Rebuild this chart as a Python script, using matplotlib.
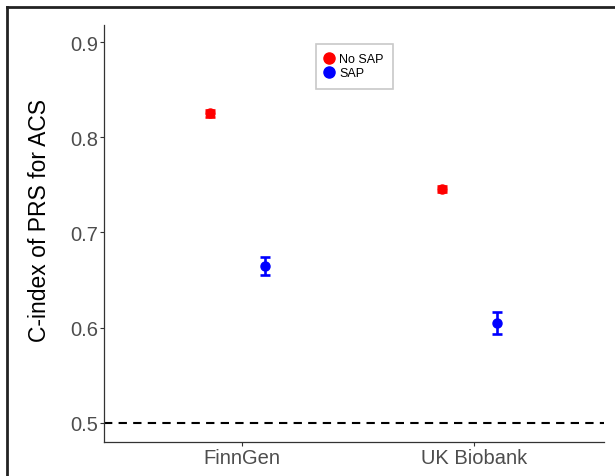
import matplotlib
matplotlib.use("Agg")
import matplotlib.pyplot as plt
from matplotlib.lines import Line2D
import numpy as np

plt.rcParams['font.family'] = ['Liberation Sans', 'DejaVu Sans']

cohorts = ["FinnGen", "UK Biobank"]
series = ["No SAP", "SAP"]
cindex = {"No SAP": [0.825, 0.746], "SAP": [0.6645, 0.605]}
err = {"No SAP": [0.004, 0.003], "SAP": [0.0095, 0.012]}
colors = {"No SAP": "#FF0000", "SAP": "#0000FF"}
dodge = {"No SAP": -0.14, "SAP": 0.10}
yticks = [0.5, 0.6, 0.7, 0.8, 0.9]
ylabel = "C-index of PRS for ACS"

fig = plt.figure(figsize=(6.15, 4.77), dpi=100)
ax = fig.add_axes([103.6/615, 34/477, (604-103.6)/615, (443-26)/477])

x = np.arange(1, len(cohorts) + 1)
handles = []
for s in series:
    ax.errorbar(x + dodge[s], cindex[s], yerr=err[s], fmt='o', color=colors[s],
                markersize=6.5, elinewidth=1.9, capsize=3.6, capthick=1.9, zorder=3)
    handles.append(Line2D([], [], marker='o', linestyle='none', color=colors[s],
                          markersize=8, label=s))

ax.axhline(0.5, color='black', linestyle=(0, (4, 3)), linewidth=1.5, zorder=2)

ax.set_xlim(0.4034, 2.56)
ax.set_ylim(0.5 - 19/950, 0.9 + 17/950)
ax.set_xticks(x)
ax.set_xticklabels(cohorts)
ax.set_yticks(yticks)
ax.set_yticklabels([f"{v:.1f}" for v in yticks])
ax.tick_params(axis='both', colors='#333333', labelcolor='#4D4D4D', labelsize=14.5,
               length=3, width=0.8, pad=1)
for side in ['top', 'right']:
    ax.spines[side].set_visible(False)
for side in ['left', 'bottom']:
    ax.spines[side].set_color('#333333')
    ax.spines[side].set_linewidth(0.9)
ax.set_ylabel(ylabel, fontsize=16.5, color='black')
ax.yaxis.set_label_coords((51 - 103.6) / (604 - 103.6), (443 - 221) / (443 - 26))

leg = ax.legend(handles=handles, loc='upper left', bbox_to_anchor=((316-103.6)/(604-103.6), (443-45)/(443-26)),
                fontsize=9, frameon=True, fancybox=False, edgecolor='#BBBBBB',
                handlelength=0.6, handletextpad=0.5, borderpad=0.75, labelspacing=0.15,
                borderaxespad=0)
leg.get_frame().set_linewidth(1.2)

# outer frame (top and left)
fig.add_artist(Line2D([7/615, 1.0], [1 - 8/477, 1 - 8/477], transform=fig.transFigure,
                      color='#222222', linewidth=2.0))
fig.add_artist(Line2D([7/615, 7/615], [0, 1 - 8/477], transform=fig.transFigure,
                      color='#222222', linewidth=2.0))

fig.savefig("out.png", dpi=100)
